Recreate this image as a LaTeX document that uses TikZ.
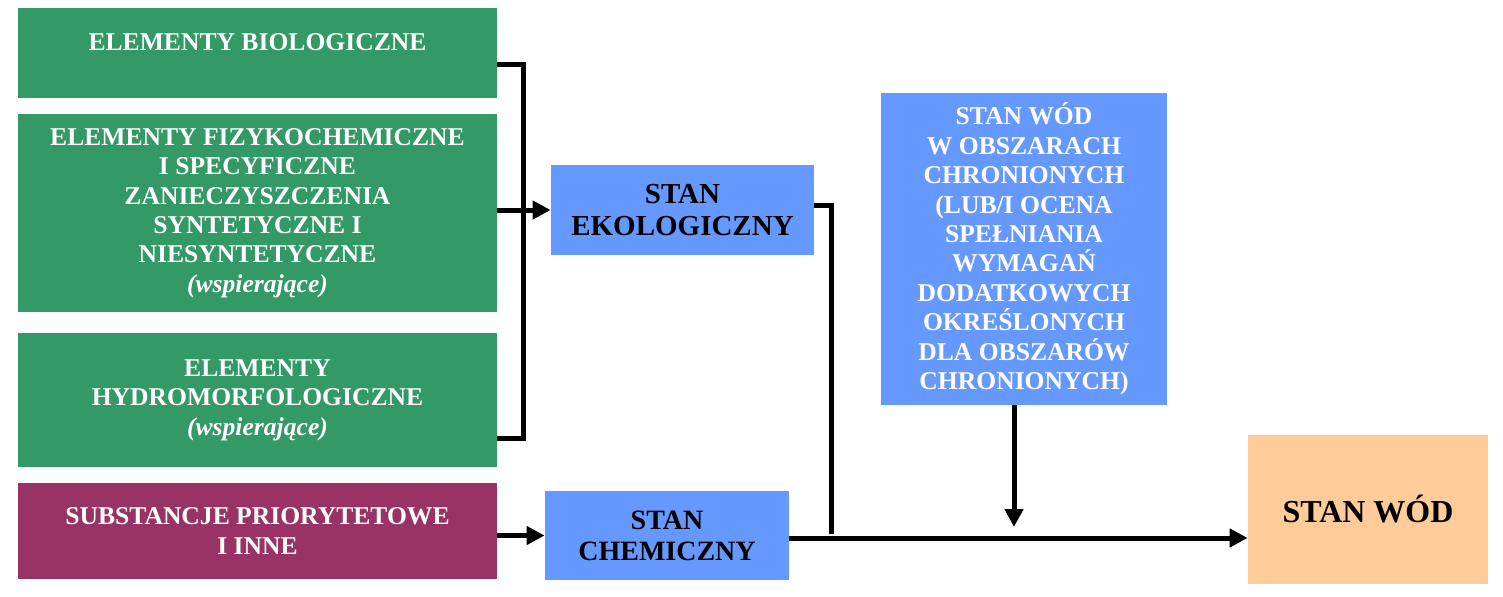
\documentclass[tikz,border=0pt]{standalone}
\usepackage{fontspec}
\setmainfont{Liberation Serif}
\usetikzlibrary{arrows.meta}
\definecolor{zielony}{HTML}{339966}
\definecolor{bordo}{HTML}{993366}
\definecolor{niebieski}{HTML}{6699FF}
\definecolor{brzoskwinia}{HTML}{FFCC99}
\tikzset{
  blok/.style={inner sep=0pt, align=center, font=\bfseries\fontsize{12.8}{14.7}\selectfont},
  lewy/.style={blok, fill=zielony, text=white, minimum width=239.5pt},
  stan/.style={blok, fill=niebieski},
  linia/.style={line width=2.5pt},
  strzalka/.style={linia, -{Triangle[length=9pt,width=9pt]}}
}
\begin{document}
\begin{tikzpicture}[x=0.5pt,y=-0.5pt]
\useasboundingbox (0,0) rectangle (1503,596);
% bloki po lewej
\node[lewy, minimum height=45pt] (bio) at (257.5,53) {ELEMENTY BIOLOGICZNE\\[-4pt]\mbox{}};
\node[lewy, minimum height=99pt] (fiz) at (257.5,213) {ELEMENTY FIZYKOCHEMICZNE\\I SPECYFICZNE\\ZANIECZYSZCZENIA\\SYNTETYCZNE I\\NIESYNTETYCZNE\\\textit{(wspierające)}};
\node[lewy, minimum height=67pt] (hydro) at (257.5,400) {ELEMENTY\\HYDROMORFOLOGICZNE\\\textit{(wspierające)}};
\node[lewy, fill=bordo, minimum height=48pt] (subst) at (257.5,531) {SUBSTANCJE PRIORYTETOWE\\I INNE};
% stany
\node[stan, minimum width=131.5pt, minimum height=45pt, font=\bfseries\fontsize{14.5}{16}\selectfont] (ekol) at (682.5,210) {STAN\\EKOLOGICZNY};
\node[stan, minimum width=122pt, minimum height=44.5pt, font=\bfseries\fontsize{14}{15.5}\selectfont] (chem) at (667,535.5) {STAN\\CHEMICZNY};
\node[stan, text=white, minimum width=143pt, minimum height=156pt] (obszar) at (1024,249) {STAN WÓD\\W OBSZARACH\\CHRONIONYCH\\(LUB/I OCENA\\SPEŁNIANIA\\WYMAGAŃ\\DODATKOWYCH\\OKREŚLONYCH\\DLA OBSZARÓW\\CHRONIONYCH)};
\node[blok, fill=brzoskwinia, minimum width=120pt, minimum height=74.5pt, font=\bfseries\fontsize{16}{18}\selectfont] (wod) at (1368,509.5) {STAN WÓD};
% polaczenia
\draw[linia] ([yshift=-5.5pt]bio.east) -| ([xshift=13pt,yshift=-19pt]hydro.east) -- ([yshift=-19pt]hydro.east);
\draw[strzalka] (fiz.east |- ekol.west) -- (ekol.west);
\draw[strzalka] (subst.east |- chem.west) -- (chem.west);
\draw[strzalka] ([yshift=-1.25pt]chem.east) coordinate (poziom) -- (poziom -| wod.west);
\coordinate (zbieg) at (831,534);
\draw[linia] ([yshift=2.5pt]ekol.east) -| (zbieg);
\coordinate (cel) at (1014,527);
\draw[strzalka] (obszar.south -| cel) -- (cel);
\end{tikzpicture}
\end{document}
